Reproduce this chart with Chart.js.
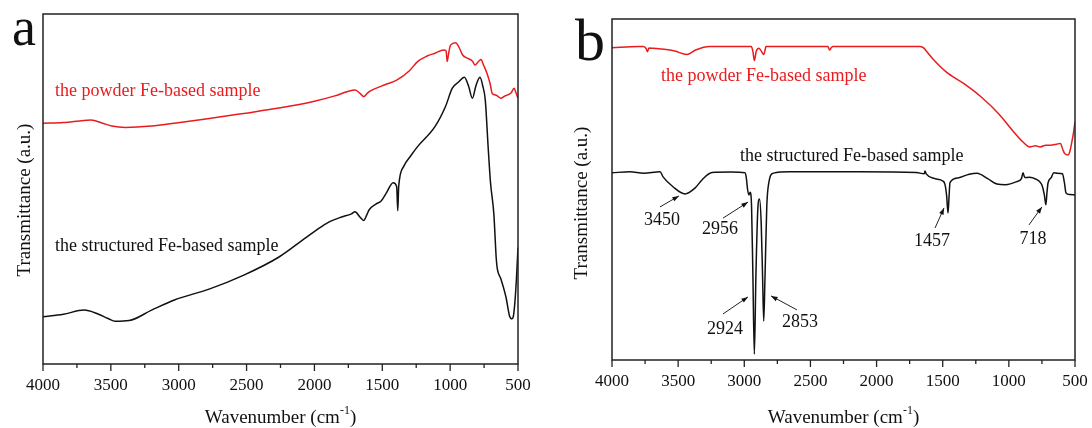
<!DOCTYPE html>
<html>
<head>
<meta charset="utf-8">
<script src="https://cdn.jsdelivr.net/npm/chart.js@4/dist/chart.umd.min.js"></script>
<style>
  body { margin: 0; background: #fff; }
  #wrap { position: relative; width: 1092px; height: 428px; }
  canvas { position: absolute; top: 0; }
</style>
</head>
<body>
<div id="wrap">
  <canvas id="chartA" width="546" height="428" style="left:0"></canvas>
  <canvas id="chartB" width="546" height="428" style="left:546px"></canvas>
</div>
<script>
// panel a : wavenumber (cm-1) / transmittance (a.u.)
const powderA_wn = [4000,3850,3700,3647,3560,3493,3391,3200,3032,2800,2520,2250,2008,1850,1760,1701,1660,1637,1610,1573,1480,1394,1300,1240,1170,1112,1048,1030,1022,1010,997,959,935,908,869,835,818,790,772,755,728,705,690,660,626,600,575,550,529,515,500];
const powderA_t  = [68.8,69.0,69.6,69.7,68.8,68.0,67.6,68.0,68.8,70.0,71.6,73.2,75.0,76.6,77.8,78.3,77.2,76.4,77.4,78.3,79.8,81.1,83.8,86.4,88.0,88.8,89.7,89.5,86.4,89.0,91.1,91.8,90.5,88.3,87.3,86.5,85.4,86.5,87.0,85.5,83.0,80.0,77.3,76.8,75.9,76.5,76.9,77.5,78.8,77.5,75.9];

const structA_wn = [4000,3850,3698,3595,3520,3467,3365,3200,3032,2776,2520,2264,2060,1950,1880,1800,1727,1701,1665,1637,1612,1598,1547,1510,1471,1420,1394,1386,1379,1343,1290,1240,1112,1035,984,940,895,865,836,810,780,760,741,720,703,678,660,652,626,588,563,545,535,524,512,500];
const structA_t  = [13.5,14.2,15.4,14.3,13.0,12.2,12.4,15.4,18.3,21.4,25.4,30.5,36.2,39.2,40.8,42.0,42.9,43.5,42.0,41.0,42.8,44.0,45.7,46.5,48.8,51.8,50.7,43.8,50.7,56.4,59.5,62.1,67.8,73.5,78.8,80.5,81.9,79.5,75.9,79.5,81.9,79.5,75.4,62.0,52.0,42.9,30.0,27.1,24.3,19.0,13.8,12.9,13.5,17.1,24.0,33.3];

// panel b
const powderB_wn = [4000,3800,3763,3740,3732,3720,3690,3605,3526,3434,3368,3263,2947,2935,2924,2910,2889,2875,2853,2840,2837,2368,2355,2340,2329,1671,1640,1632,1579,1474,1342,1211,1079,974,895,842,800,763,720,684,640,611,590,579,553,540,526,510,500];
const powderB_t  = [91.6,91.9,91.9,91.2,90.4,91.5,91.4,91.1,90.6,89.6,90.9,91.9,91.9,90.5,87.8,90.5,91.4,90.8,89.6,91.4,91.9,91.9,90.9,91.7,91.9,91.9,91.4,91.0,88.5,84.5,81.1,77.2,72.3,67.4,64.0,62.5,62.8,62.5,63.0,63.0,63.3,63.5,61.5,60.6,60.1,61.0,63.5,67.0,69.9];

const structB_wn = [4000,3864,3760,3637,3614,3539,3448,3373,3320,3244,3100,2995,2985,2975,2965,2956,2945,2935,2924,2912,2898,2885,2872,2862,2853,2843,2830,2815,2780,2658,2132,1700,1640,1634,1625,1560,1500,1483,1470,1460,1452,1445,1385,1300,1241,1160,1090,1026,940,905,893,880,845,818,770,750,732,720,712,704,680,660,636,595,580,568,540,500];
const structB_t  = [54.9,55.2,54.8,55.2,53.7,50.8,48.7,50.4,52.8,55.0,55.1,54.9,53.5,50.0,48.4,49.2,45.0,25.0,1.7,25.0,44.0,47.2,40.0,25.0,11.4,25.0,45.0,51.9,54.8,55.2,55.2,55.0,54.6,55.4,54.6,53.2,52.5,51.5,48.0,43.1,48.0,52.0,53.4,54.5,54.8,53.2,51.6,51.4,52.3,53.2,54.9,53.5,53.6,53.4,52.4,51.3,48.5,45.5,49.0,51.9,53.5,54.9,54.8,54.6,52.0,49.0,48.5,48.4];

const xTicks = [500,1000,1500,2000,2500,3000,3500,4000];

// peak labels on panel b: [text, label wn, label T, arrow tail wn, T, arrow head wn, T]
const peaksB = [
  ['3450', 3622, 41.1, 3637, 44.9, 3494, 48.1],
  ['2956', 3184, 38.4, 3161, 41.6, 2972, 46.3],
  ['2924', 3146, 9.1, 3161, 13.5, 2972, 18.5],
  ['2853', 2579, 11.1, 2602, 14.7, 2798, 18.8],
  ['1457', 1581, 34.9, 1558, 38.7, 1490, 44.6],
  ['718', 818, 35.5, 848, 39.6, 750, 44.9]
];

const RED = 'rgb(232,28,30)';
const BLACK = '#111';
const SERIF = "'Liberation Serif', 'Times New Roman', serif";

function pts(wn, t) {
  return wn.map((w, i) => ({ x: w, y: t[i] }));
}

const decor = {
  id: 'decor',
  afterDraw(chart, args, o) {
    const ctx = chart.ctx;
    const a = chart.chartArea;
    const xs = chart.scales.x, ys = chart.scales.y;
    ctx.save();
    // frame
    ctx.strokeStyle = '#222';
    ctx.lineWidth = 1.5;
    ctx.strokeRect(a.left, a.top, a.right - a.left, a.bottom - a.top);
    // outward ticks, major every 500, minor every 250
    ctx.lineWidth = 1.3;
    for (let w = 500; w <= 4000; w += 250) {
      const px = xs.getPixelForValue(w);
      const len = w % 500 === 0 ? 7 : 4;
      ctx.beginPath();
      ctx.moveTo(px, a.bottom);
      ctx.lineTo(px, a.bottom + len);
      ctx.stroke();
    }
    ctx.fillStyle = '#111';
    // x title with superscript
    const cx = (a.left + a.right) / 2;
    ctx.font = '19px ' + SERIF;
    const t1 = 'Wavenumber (cm', t3 = ')';
    const w1 = ctx.measureText(t1).width, w3 = ctx.measureText(t3).width;
    ctx.font = '12px ' + SERIF;
    const w2 = ctx.measureText('-1').width;
    let x0 = cx - (w1 + w2 + w3) / 2;
    ctx.textBaseline = 'alphabetic';
    ctx.textAlign = 'left';
    ctx.font = '19px ' + SERIF;
    ctx.fillText(t1, x0, 423);
    ctx.font = '12px ' + SERIF;
    ctx.fillText('-1', x0 + w1, 414);
    ctx.font = '19px ' + SERIF;
    ctx.fillText(t3, x0 + w1 + w2, 423);
    // y title
    ctx.save();
    ctx.translate(a.left + o.yTitleDx, o.yTitleY);
    ctx.rotate(-Math.PI / 2);
    ctx.textAlign = 'center';
    ctx.textBaseline = 'middle';
    ctx.fillText('Transmittance (a.u.)', 0, 0);
    ctx.restore();
    // panel letter
    ctx.font = o.letterSize + 'px ' + SERIF;
    ctx.textAlign = 'left';
    ctx.textBaseline = 'alphabetic';
    ctx.fillText(o.letter, o.letterX, o.letterY);
    // series labels
    ctx.font = '18px ' + SERIF;
    ctx.textBaseline = 'middle';
    o.labels.forEach(l => {
      ctx.fillStyle = l[3];
      ctx.fillText(l[0], xs.getPixelForValue(l[1]), ys.getPixelForValue(l[2]));
    });
    // peak labels with arrows
    ctx.fillStyle = '#111';
    ctx.strokeStyle = '#222';
    ctx.lineWidth = 1;
    ctx.textAlign = 'center';
    (o.peaks || []).forEach(p => {
      ctx.fillText(p[0], xs.getPixelForValue(p[1]), ys.getPixelForValue(p[2]));
      const tx = xs.getPixelForValue(p[3]), ty = ys.getPixelForValue(p[4]);
      const hx = xs.getPixelForValue(p[5]), hy = ys.getPixelForValue(p[6]);
      const ang = Math.atan2(hy - ty, hx - tx);
      ctx.beginPath();
      ctx.moveTo(tx, ty);
      ctx.lineTo(hx, hy);
      ctx.stroke();
      ctx.beginPath();
      ctx.moveTo(hx, hy);
      ctx.lineTo(hx - 7 * Math.cos(ang - 0.35), hy - 7 * Math.sin(ang - 0.35));
      ctx.lineTo(hx - 7 * Math.cos(ang + 0.35), hy - 7 * Math.sin(ang + 0.35));
      ctx.closePath();
      ctx.fill();
    });
    ctx.restore();
  }
};

function makeChart(id, sets, pad, xHeight, deco) {
  return new Chart(document.getElementById(id), {
    type: 'line',
    data: {
      datasets: sets.map(s => ({
        data: pts(s[0], s[1]),
        borderColor: s[2],
        borderWidth: 1.5,
        pointRadius: 0,
        cubicInterpolationMode: 'monotone',
        fill: false
      }))
    },
    options: {
      responsive: false,
      animation: false,
      layout: { padding: pad },
      plugins: { legend: { display: false }, tooltip: { enabled: false }, decor: deco },
      scales: {
        x: {
          type: 'linear',
          min: 500, max: 4000,
          reverse: true,
          afterBuildTicks: s => { s.ticks = xTicks.map(v => ({ value: v })); },
          afterFit: s => { s.height = xHeight; },
          grid: { display: false, drawTicks: false },
          border: { display: false },
          ticks: {
            padding: 11,
            color: '#111',
            maxRotation: 0,
            autoSkip: false,
            callback: v => String(v),
            font: { family: SERIF, size: 17 }
          }
        },
        y: { display: false, min: 0, max: 100 }
      }
    },
    plugins: [decor]
  });
}

makeChart('chartA',
  [[powderA_wn, powderA_t, RED], [structA_wn, structA_t, BLACK]],
  { left: 43, right: 28, top: 14, bottom: 0 }, 64,
  {
    letter: 'a', letterX: 12, letterY: 45, letterSize: 54,
    yTitleDx: -18, yTitleY: 200,
    labels: [
      ['the powder Fe-based sample', 3912, 78.0, RED],
      ['the structured Fe-based sample', 3912, 33.7, BLACK]
    ]
  });

makeChart('chartB',
  [[powderB_wn, powderB_t, RED], [structB_wn, structB_t, BLACK]],
  { left: 66, right: 17, top: 19, bottom: 0 }, 68,
  {
    letter: 'b', letterX: 29, letterY: 60, letterSize: 60,
    yTitleDx: -30, yTitleY: 203,
    labels: [
      ['the powder Fe-based sample', 3630, 83.3, RED],
      ['the structured Fe-based sample', 3032, 59.8, BLACK]
    ],
    peaks: peaksB
  });
</script>
</body>
</html>
